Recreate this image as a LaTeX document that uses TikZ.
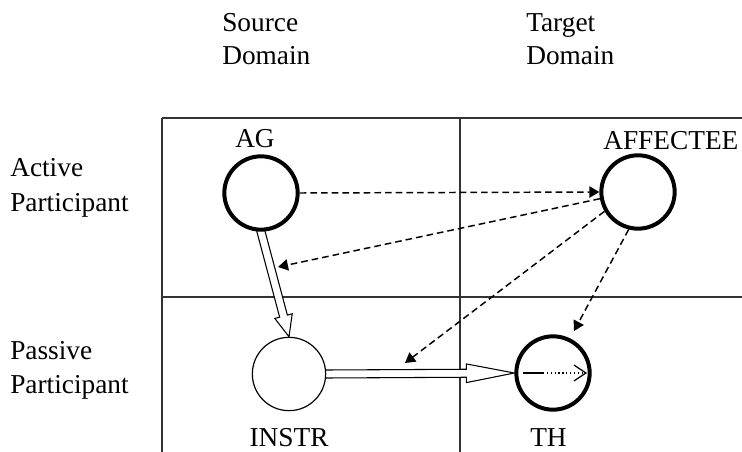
\documentclass[tikz,border=0pt]{standalone}
\usepackage{fontspec}
\setmainfont{Liberation Serif}
\usetikzlibrary{arrows.meta,calc}
\pgfdeclarelayer{background}
\pgfsetlayers{background,main}
\newcommand{\hollowarrow}[5]{%
  \coordinate (ha-b) at ($(#2)!#4!(#1)$);
  \coordinate (ha-s1) at ($(#1)!#3!90:(#2)$);
  \coordinate (ha-s2) at ($(#1)!#3!-90:(#2)$);
  \coordinate (ha-b1) at ($(ha-b)!#3!90:(#2)$);
  \coordinate (ha-b2) at ($(ha-b)!#3!-90:(#2)$);
  \coordinate (ha-h1) at ($(ha-b)!#5!90:(#2)$);
  \coordinate (ha-h2) at ($(ha-b)!#5!-90:(#2)$);
  \draw[hollow] (ha-s1) -- (ha-b1) -- (ha-h1) -- (#2) -- (ha-h2) -- (ha-b2) -- (ha-s2) -- cycle;
}
\begin{document}
\begin{tikzpicture}[x=0.75pt,y=-0.75pt,
  lbl/.style={inner sep=0pt,font=\fontsize{20.5}{24}\selectfont},
  thickcirc/.style={circle,draw,line width=3pt,fill=white,minimum size=55pt,inner sep=0pt},
  thincirc/.style={circle,draw,line width=0.9pt,fill=white,minimum size=55pt,inner sep=0pt},
  grid/.style={line width=1pt,draw=black!80},
  dasharrow/.style={line width=1.1pt,dash pattern=on 5pt off 3pt,-{Triangle[length=7.5pt,width=8.5pt]}},
  hollow/.style={line width=0.8pt,fill=white,line join=miter}]
\useasboundingbox (0,0) rectangle (742,452);

% column / row labels
\node[lbl,anchor=base west] (src1) at (222,32) {Source};
\node[lbl,anchor=base west] (src2) at (222,65) {Domain};
\node[lbl,anchor=base west] (tgt1) at (526,32) {Target};
\node[lbl,anchor=base west] (tgt2) at (526,65) {Domain};
\node[lbl,anchor=base west] (act1) at (10,177) {Active};
\node[lbl,anchor=base west] (act2) at (10,212) {Participant};
\node[lbl,anchor=base west] (pas1) at (10,359) {Passive};
\node[lbl,anchor=base west] (pas2) at (10,393) {Participant};

% grid
\coordinate (g-tl) at (162,118);
\coordinate (g-tr) at (742,118);
\coordinate (g-ml) at (162,297);
\coordinate (g-mr) at (742,297);
\coordinate (g-bl) at (162,452);
\coordinate (g-tm) at (460,118);
\coordinate (g-bm) at (460,452);

% circles
\node[thickcirc] (AG) at (261,193) {};
\node[thickcirc] (AFFECTEE) at (638,192) {};
\node[thincirc] (INSTR) at (289,374) {};
\node[thickcirc] (TH) at (553,373) {};

% circle labels
\node[lbl,anchor=base] (agl) at (255,148) {AG};
\node[lbl,anchor=base west] (affl) at (603,150) {AFFECTEE};
\node[lbl,anchor=base] (instrl) at (289,446) {INSTR};
\node[lbl,anchor=base west] (thl) at (530,446) {TH};

% free ends
\coordinate (e2) at (278,267);
\coordinate (e3) at (405,363);
\coordinate (e4) at (574,331);

\begin{pgfonlayer}{background}
  \draw[grid] (g-tl) -- (g-tr);
  \draw[grid] (g-ml) -- (g-mr);
  \draw[grid] (g-tl) -- (g-bl);
  \draw[grid] (g-tm) -- (g-bm);
  \hollowarrow{$(AG.south)!-10pt!(INSTR.north)$}{INSTR.north}{3pt}{16pt}{6.75pt}
  \hollowarrow{$(INSTR.east)!-10pt!(TH.west)$}{TH.west}{3pt}{36pt}{7pt}
  \draw[dasharrow] (AG.east) -- (AFFECTEE.west);
  \draw[dasharrow] (AFFECTEE.190) -- (e2);
  \draw[dasharrow] (AFFECTEE.210) -- (e3);
  \draw[dasharrow] (AFFECTEE.256) -- (e4);
\end{pgfonlayer}

% arrow inside TH
\coordinate (th1) at ($(TH.center)+(-30,0)$);
\coordinate (th2) at ($(TH.center)+(-10,0)$);
\coordinate (th3) at ($(TH.center)+(34,0)$);
\draw[line width=0.9pt] (th1) -- (th2);
\draw[line width=0.9pt,dotted,-{Straight Barb[length=9pt,width=12pt]}] (th2) -- (th3);
\end{tikzpicture}
\end{document}
